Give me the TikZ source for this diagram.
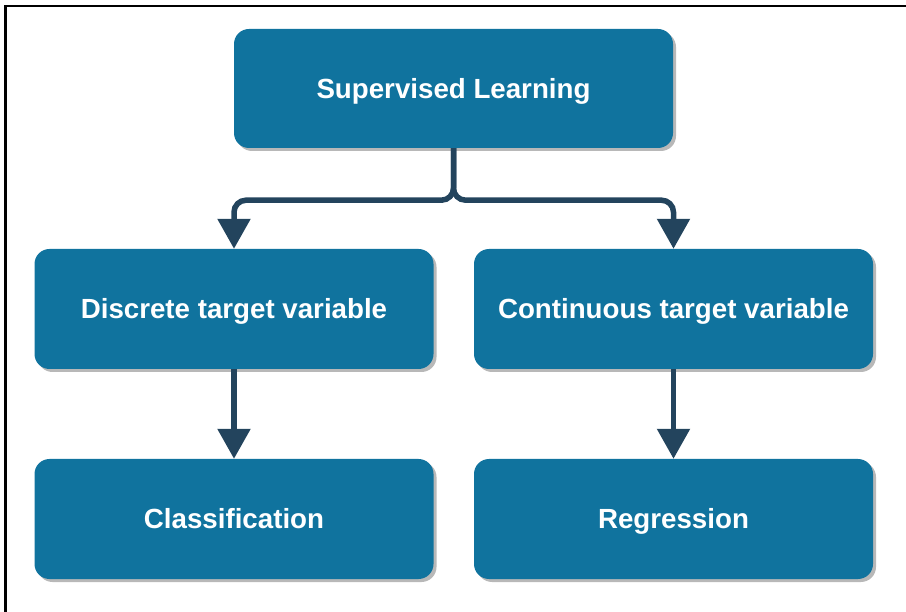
\documentclass[tikz,border=0pt]{standalone}
\usepackage{fontspec}
\setmainfont{Liberation Sans}
\usetikzlibrary{positioning,arrows.meta,shadows}
\definecolor{boxblue}{HTML}{10739E}
\definecolor{linkblue}{HTML}{23445D}

\begin{document}
\begin{tikzpicture}[x=1pt,y=-1pt]
        \useasboundingbox (0,0) rectangle (906,612);
        \draw[line width=2.8pt] (5.5,612) -- (5.5,6) -- (906,6);
        \tikzstyle{box} = [rectangle,rounded corners=15pt,fill=boxblue,text=white,
            minimum width=399pt,minimum height=120pt,inner sep=0pt,
            text height=19.8pt,text depth=0pt,
            font=\bfseries\fontsize{27.7}{33}\selectfont,
            drop shadow={shadow xshift=3pt,shadow yshift=-3pt,fill=black!28,opacity=1}]
        \tikzstyle{link} = [draw=linkblue,line width=5.5pt,rounded corners=12pt,
            -{Triangle[width=32pt,length=30pt]}]
        \node[box,minimum width=439pt,minimum height=119pt] (sup) at (453.5,88.5) {Supervised Learning};
        \node[box] (disc) at (234,309) {Discrete target variable};
        \node[box] (cont) at (673.5,309) {Continuous target variable};
        \node[box,below of=disc,node distance=210pt] (clf) {Classification};
        \node[box,below of=cont,node distance=210pt] (reg) {Regression};
        \draw[link] (sup.south) -- ++(0,52) -| (disc.north);
        \draw[link] (sup.south) -- ++(0,52) -| (cont.north);
        \draw[link] (disc) to (clf);
        \draw[link] (cont) to (reg);
      \end{tikzpicture}
\end{document}
